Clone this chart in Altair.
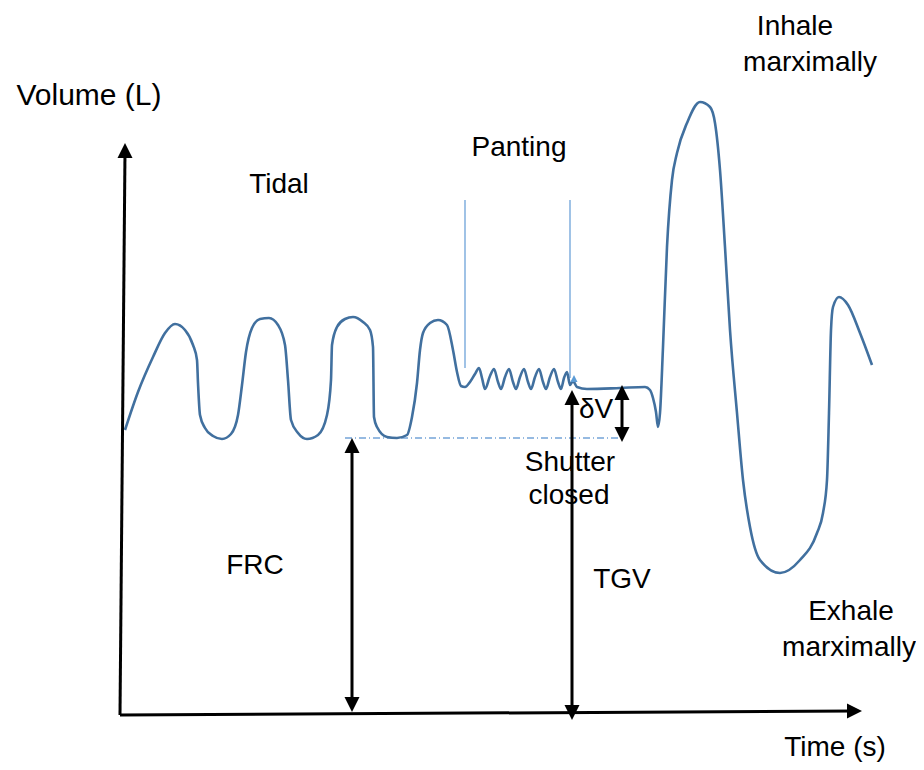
import altair as alt
import pandas as pd

# Volume trace (arbitrary units: time index, volume index)
trace_t = [5, 18, 33, 45, 55, 65, 73, 77, 78, 80, 85, 93, 102, 111, 118, 122, 126, 132, 140, 149,
           158, 165, 168, 171, 178, 187, 198, 207, 211, 212, 217, 225, 233, 243, 250, 253, 254, 257,
           267, 277, 287, 292, 297, 300, 303, 310, 318, 327,
           333, 337, 341, 345, 350, 355, 359, 362, 365, 370, 374, 378, 381, 385, 389, 393, 396, 400,
           404, 408, 411, 415, 419, 423, 426, 430, 434, 438, 441, 444, 447, 450, 453, 457, 467, 500,
           525, 530, 533, 536, 538, 540, 543, 547, 552, 557, 567, 580, 590, 595, 600, 605, 610, 617,
           623, 630, 640, 660, 680, 697, 703, 707, 709, 711, 713, 719, 728, 740, 752]
trace_v = [285, 323, 358, 382, 391, 385, 370, 355, 332, 300, 287, 279, 276, 281, 300, 330, 363, 387, 396, 397,
           390, 370, 335, 295, 282, 276, 280, 300, 335, 370, 388, 396, 398, 393, 385, 368, 298, 288,
           278, 277, 280, 298, 332, 365, 382, 392, 395, 390,
           365, 343, 329, 328, 333, 341, 347, 337, 326, 339, 346, 333, 326, 338, 346, 333, 326, 338,
           346, 333, 326, 338, 346, 333, 326, 338, 346, 333, 326, 337, 343, 330, 334, 328, 326, 327,
           328, 325, 317, 303, 288, 302, 368, 468, 535, 562, 592, 613, 608, 592, 545, 468, 385, 302,
           235, 188, 155, 142, 155, 182, 202, 235, 302, 385, 408, 418, 410, 382, 350]

# Black axis / arrow shafts
shaft_t = [0, 0, 232, 452, 502]
shaft_v = [0, 0, 11, 3, 322]
shaft_t2 = [5, 734, 232, 452, 502]
shaft_v2 = [564, 4, 269, 317, 281]

# Arrowheads (tip positions)
up_t = [5, 232, 452, 502]
up_v = [572, 277, 325, 330]
down_t = [232, 452, 502]
down_v = [3, -5, 273]
right_t = [742]
right_v = [4]

# Panting markers and FRC level
pant_t = [345, 450]
pant_v = [515, 515]
pant_v2 = [347, 337]
frc_t, frc_t2, frc_v = [225], [502], [277]

labels = ["Volume (L)", "Time (s)", "Tidal", "Panting", "Inhale", "marximally",
          "Exhale", "marximally", "FRC", "TGV", "Shutter", "closed", "δV"]
label_t = [-31, 715, 159, 399, 675, 690, 731, 729, 135, 502, 450, 449, 476]
label_v = [619, -33, 530, 567, 688, 652, 103, 67, 149, 135, 252, 219, 305]
label_size = [30, 28, 28, 28, 28, 28, 28, 28, 28, 28, 28, 28, 28]

X = lambda f: alt.X(f, type="quantitative", scale=alt.Scale(domain=[-112, 796], nice=False, zero=False), axis=None)
Y = lambda f: alt.Y(f, type="quantitative", scale=alt.Scale(domain=[-47, 707], nice=False, zero=False), axis=None)

curve = alt.Chart(pd.DataFrame({"t": trace_t, "v": trace_v})).mark_line(
    interpolate="monotone", color="#41709f", strokeWidth=2.6
).encode(x=X("t"), y=Y("v"), order=alt.Order("t:Q"))

pant = alt.Chart(pd.DataFrame({"t": pant_t, "v": pant_v, "v2": pant_v2})).mark_rule(
    color="#78a9dc", strokeWidth=1.4
).encode(x=X("t"), y=Y("v"), y2="v2:Q")

frc_line = alt.Chart(pd.DataFrame({"t": frc_t, "t2": frc_t2, "v": frc_v})).mark_rule(
    color="#74a4d8", strokeWidth=1.3, strokeDash=[7, 3, 1, 3]
).encode(x=X("t"), x2="t2:Q", y=Y("v"))

shafts = alt.Chart(pd.DataFrame({"t": shaft_t, "v": shaft_v, "t2": shaft_t2, "v2": shaft_v2})).mark_rule(
    color="black", strokeWidth=3
).encode(x=X("t"), y=Y("v"), x2="t2:Q", y2="v2:Q")

def heads(ts, vs, path, size=900, color="black"):
    return alt.Chart(pd.DataFrame({"t": ts, "v": vs})).mark_point(
        shape=path, filled=True, size=size, color=color, opacity=1, strokeWidth=0
    ).encode(x=X("t"), y=Y("v"))

up = heads(up_t, up_v, "M0,0L-0.5,1L0.5,1Z")
down = heads(down_t, down_v, "M0,0L-0.5,-1L0.5,-1Z")
right = heads(right_t, right_v, "M0,0L-1,-0.5L-1,0.5Z")
small = heads([454], [340], "M0,0L-0.5,1L0.5,1Z", size=200, color="#5b9bd5")

text = alt.Chart(pd.DataFrame({"label": labels, "t": label_t, "v": label_v, "s": label_size})).mark_text(
    align="center", baseline="middle", font="Liberation Sans", color="black"
).encode(x=X("t"), y=Y("v"), text="label:N", size=alt.Size("s:Q", scale=None, legend=None))

chart = alt.layer(frc_line, pant, curve, shafts, up, down, right, small, text).properties(
    width=908, height=754, autosize="none", padding=0
).configure_view(stroke=None)

chart.save("out.html", embed_options={"renderer": "svg", "actions": False})
